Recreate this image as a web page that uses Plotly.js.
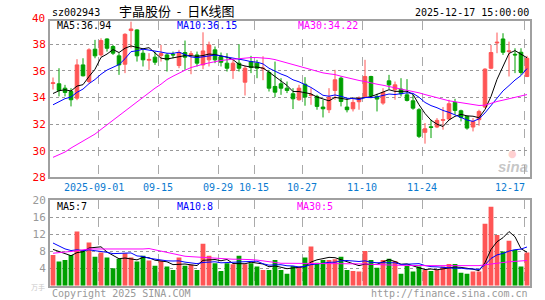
<!DOCTYPE html>
<html><head><meta charset="utf-8">
<script src="https://cdn.plot.ly/plotly-3.0.1.min.js"></script>
<style>html,body{margin:0;padding:0;background:#fff}#chart{width:545px;height:300px}</style>
</head><body><div id="chart"></div>
<script>
const dates = [
"2025-08-20","2025-08-21","2025-08-22","2025-08-25","2025-08-26","2025-08-27","2025-08-28","2025-08-29",
"2025-09-01","2025-09-02","2025-09-03","2025-09-04","2025-09-05","2025-09-08","2025-09-09","2025-09-10","2025-09-11","2025-09-12",
"2025-09-15","2025-09-16","2025-09-17","2025-09-18","2025-09-19","2025-09-22","2025-09-23","2025-09-24","2025-09-25","2025-09-26",
"2025-09-29","2025-09-30","2025-10-09","2025-10-10","2025-10-13","2025-10-14","2025-10-15","2025-10-16","2025-10-17",
"2025-10-20","2025-10-21","2025-10-22","2025-10-23","2025-10-24","2025-10-27","2025-10-28","2025-10-29","2025-10-30","2025-10-31",
"2025-11-03","2025-11-04","2025-11-05","2025-11-06","2025-11-07","2025-11-10","2025-11-11","2025-11-12","2025-11-13","2025-11-14",
"2025-11-17","2025-11-18","2025-11-19","2025-11-20","2025-11-21","2025-11-24","2025-11-25","2025-11-26","2025-11-27","2025-11-28",
"2025-12-01","2025-12-02","2025-12-03","2025-12-04","2025-12-05","2025-12-08","2025-12-09","2025-12-10","2025-12-11","2025-12-12",
"2025-12-15","2025-12-16","2025-12-17"];

const openP = [35.05,35.03,34.7,34.45,33.95,36.45,35.2,37.63,37.2,38.4,
37.83,37.13,36.5,39.03,39.08,37.33,36.8,37.03,37.15,37.2,
37.25,36.4,37.38,37.2,37.2,36.45,36.83,37.58,37.08,36.58,
36.03,36.58,35.15,36.7,36.58,36.15,35.88,34.83,35.03,34.7,
34.28,33.83,35.0,34.15,34.08,33.28,33.08,34.53,35.45,33.28,
33.15,33.68,34.08,35.58,34.08,33.58,35.25,34.58,34.63,34.2,
33.75,33.08,31.38,31.8,31.78,32.28,32.38,33.63,33.0,32.58,
31.78,32.33,33.28,36.2,38.1,38.4,37.45,37.25,37.4,35.58];
const highP = [35.5,36.2,34.95,34.7,36.88,36.95,37.7,38.33,38.45,38.45,
37.95,37.33,38.83,39.7,39.13,37.7,37.33,37.45,37.95,37.33,
37.45,37.58,38.28,37.5,37.45,38.9,38.2,37.83,37.38,37.33,
36.83,38.0,36.38,37.13,36.83,37.1,36.08,36.7,35.45,35.2,
34.7,34.95,35.53,34.7,34.2,33.83,34.7,36.08,35.58,33.95,
33.88,34.08,36.83,35.63,34.28,34.7,35.7,35.2,35.45,35.38,
34.2,33.2,32.08,32.33,32.45,33.28,33.83,33.9,33.08,32.63,
32.45,33.08,36.2,37.95,38.88,38.83,38.2,37.7,37.7,37.13];
const lowP = [34.6,34.08,34.08,33.33,33.8,35.58,35.08,36.95,37.08,37.45,
37.2,35.7,35.83,37.7,36.7,36.33,36.08,36.45,36.7,35.95,
36.95,36.2,36.08,35.75,36.33,36.13,36.33,36.58,36.33,35.95,
35.4,35.95,34.15,35.83,35.45,35.3,34.45,34.03,34.2,34.33,
33.13,33.75,33.38,33.45,33.08,32.5,32.83,33.83,33.33,32.88,
32.95,33.08,33.95,33.95,32.95,33.45,34.63,33.83,34.08,33.7,
33.08,30.95,30.53,30.95,31.7,31.58,32.33,32.7,32.2,31.58,
31.45,31.88,33.2,36.13,37.33,37.2,35.58,35.83,35.7,35.53];
const closeP = [35.1,34.53,34.38,33.83,36.45,35.63,37.58,37.13,38.28,37.7,
37.33,36.45,38.75,39.15,37.13,36.83,36.86,36.65,37.3,36.83,
37.2,37.38,37.03,37.28,36.58,37.5,37.95,36.83,36.65,36.2,
36.58,36.2,36.2,36.25,36.2,36.2,34.7,34.4,34.7,34.53,
33.9,34.7,34.03,34.2,33.33,33.15,34.03,35.33,33.7,33.08,
33.63,33.95,35.58,34.13,33.88,34.38,34.95,34.95,34.28,33.78,
33.2,31.08,31.65,31.75,32.28,32.33,33.53,33.03,32.5,31.7,
32.2,32.95,36.13,37.38,38.15,37.4,37.5,37.2,35.88,36.95];
// closes of the nine sessions before the first visible one (estimated from the MA lines' starting levels)
const prevClose = [32.0,32.3,32.6,32.9,33.2,33.5,34.0,34.3,34.6];
// price MA30
const ma30P = [29.5,29.7,29.9,30.2,30.45,30.7,30.95,31.25,31.6,31.95,
32.3,32.6,32.95,33.3,33.7,34.0,34.35,34.7,35.0,35.35,
35.6,35.85,36.05,36.25,36.4,36.5,36.6,36.7,36.78,36.83,
36.88,36.92,36.95,37.0,37.0,36.98,36.93,36.85,36.72,36.6,
36.5,36.38,36.25,36.1,35.98,35.85,35.78,35.72,35.6,35.48,
35.38,35.28,35.2,35.08,35.0,34.92,34.83,34.75,34.65,34.55,
34.45,34.35,34.22,34.1,33.98,33.85,33.75,33.68,33.6,33.52,
33.45,33.4,33.42,33.58,33.7,33.8,33.9,34.0,34.1,34.22];

const volume = [7.2,5.65,6.0,7.2,12.7,8.15,10.1,6.8,7.8,6.6,
4.1,6.3,7.6,6.6,5.65,7.0,5.9,4.7,5.9,4.5,
3.7,6.6,4.7,4.9,3.7,9.8,7.0,5.25,3.45,5.25,
5.0,7.0,5.0,5.25,4.5,3.7,3.7,6.0,3.7,2.8,
4.6,4.5,6.6,9.2,5.4,6.0,6.0,6.2,6.8,3.7,
3.45,3.3,8.15,6.0,4.2,6.0,6.3,5.8,2.8,4.6,
3.3,4.5,3.7,3.45,3.7,4.5,5.1,5.1,3.05,2.8,
3.3,3.3,14.5,18.5,11.9,8.0,10.5,8.4,4.5,7.8];
const prevVolume = [13,12.5,11,11,10,8.2,9.0,9.0,9.1];
const ma30V = [7.6,7.8,7.9,8.0,8.2,8.4,8.6,8.6,8.6,8.6,
8.6,8.6,8.5,8.5,8.5,8.6,8.7,8.4,8.0,7.7,
7.4,7.2,6.9,6.8,6.7,6.6,6.5,6.4,6.3,6.2,
6.2,6.2,6.2,6.1,6.0,5.8,5.7,5.4,5.25,5.25,
5.25,5.25,5.25,5.25,5.25,5.25,5.25,5.25,5.25,5.25,
5.25,5.2,5.1,5.0,4.9,4.9,4.85,4.8,4.75,4.7,
4.7,4.7,4.7,4.7,4.7,4.7,4.7,4.7,4.7,4.7,
4.7,4.7,4.9,5.1,5.3,5.45,5.6,5.7,5.8,5.9];

const priceTicks = [28,30,32,34,36,38];
const volTicks = [4,8,12,16,20];
const dateLabels = ["2025-09-01","09-15","09-29","10-15","10-27","11-10","11-24","12-17"];
const labelTexts = {ma5:"MA5:36.94", ma10:"MA10:36.15", ma30:"MA30:34.22", vma5:"MA5:7", vma10:"MA10:8", vma30:"MA30:5"};

// ---------- helpers ----------
const H = 300, L = 50, R = 530;
const px = x => (x - L) / (R - L);
const py = y => 1 - y / H;
function movingAvg(arr, prev, n) {
  const all = prev.concat(arr);
  return arr.map((_, i) => {
    const j = i + prev.length; let s = 0;
    for (let k = j - n + 1; k <= j; k++) s += all[k];
    return s / n;
  });
}
const idx = dates.map((d, i) => i);
const gridX = dateLabels.map(lbl => dates.findIndex(d => d.endsWith(lbl)) - 0.5);
const RED = '#ff5555', GREEN = '#00a000', MONO = 'DejaVu Sans Mono, monospace';
const volColors = closeP.map((c, i) => c >= openP[i] ? RED : GREEN);

const traces = [
  {type:'candlestick', x:idx, open:openP, high:highP, low:lowP, close:closeP,
   increasing:{line:{color:RED,width:1}, fillcolor:RED},
   decreasing:{line:{color:GREEN,width:1}, fillcolor:GREEN},
   whiskerwidth:0, hoverinfo:'skip', xaxis:'x', yaxis:'y'},
  {type:'scatter', mode:'lines', x:idx, y:movingAvg(closeP, prevClose, 5), line:{color:'#000000',width:1}, hoverinfo:'skip', xaxis:'x', yaxis:'y'},
  {type:'scatter', mode:'lines', x:idx, y:movingAvg(closeP, prevClose, 10), line:{color:'#0000ff',width:1}, hoverinfo:'skip', xaxis:'x', yaxis:'y'},
  {type:'scatter', mode:'lines', x:idx, y:ma30P, line:{color:'#ff00ff',width:1}, hoverinfo:'skip', xaxis:'x', yaxis:'y'},
  {type:'bar', x:idx, y:volume, width:0.8, marker:{color:volColors, line:{width:0}}, hoverinfo:'skip', xaxis:'x2', yaxis:'y2'},
  {type:'scatter', mode:'lines', x:idx, y:movingAvg(volume, prevVolume, 5), line:{color:'#000000',width:1}, hoverinfo:'skip', xaxis:'x2', yaxis:'y2'},
  {type:'scatter', mode:'lines', x:idx, y:movingAvg(volume, prevVolume, 10), line:{color:'#0000ff',width:1}, hoverinfo:'skip', xaxis:'x2', yaxis:'y2'},
  {type:'scatter', mode:'lines', x:idx, y:ma30V, line:{color:'#ff00ff',width:1}, hoverinfo:'skip', xaxis:'x2', yaxis:'y2'}
];

const xBase = {range:[-0.5, 79.5], tickvals:gridX, showticklabels:false, ticks:'',
  showgrid:true, gridcolor:'#aaaaaa', griddash:'dash', gridwidth:1, zeroline:false,
  showline:true, mirror:true, linecolor:'#a0a0a0', linewidth:2, fixedrange:true};
const yBase = {showgrid:true, gridcolor:'#999999', griddash:'dot', gridwidth:1, zeroline:false,
  showline:true, mirror:true, linecolor:'#a0a0a0', linewidth:2, ticks:'', fixedrange:true};

function txt(text, x, y, color, size, xanchor, family) {
  return {text:text, xref:'paper', yref:'paper', x:px(x), y:py(y), xanchor:xanchor||'left', yanchor:'middle',
    showarrow:false, font:{family:family||MONO, size:size||10, color:color||'#000'}};
}
const NB = '\u00a0';
const annotations = [
  txt('sz002943', 50, 12, '#000', 10),
  txt('宇晶股份' + NB + NB + '-' + NB + NB + '日K线图', 177, 11, '#000', 13, 'center', 'Noto Sans CJK SC, sans-serif'),
  txt('2025-12-17 15:00:00', 531, 12, '#000', 10, 'right'),
  txt('40', 47, 18, '#ff0000', 11, 'right'),
  txt(labelTexts.ma5, 55, 25, '#000', 10),
  txt(labelTexts.ma10, 175, 25, '#0000ff', 10),
  txt(labelTexts.ma30, 296, 25, '#ff00ff', 10),
  txt(labelTexts.vma5, 55, 207, '#000', 10),
  txt(labelTexts.vma10, 175, 207, '#0000ff', 10),
  txt(labelTexts.vma30, 295, 207, '#ff00ff', 10),
  txt('Copyright 2025 SINA.COM', 50, 293, '#999', 10),
  txt('http://finance.sina.com.cn', 530, 293, '#999', 10, 'right'),
  txt('万手', 38, 287, '#c8c8c8', 7, 'center', 'Noto Sans CJK SC, sans-serif'),
  txt('<b><i>sina</i></b>', 513, 166, 'rgba(150,150,150,0.55)', 15, 'center', 'Liberation Sans, sans-serif'),
  txt('●', 512, 153, 'rgba(255,120,120,0.35)', 10, 'center', 'DejaVu Sans')
];
dateLabels.forEach((lbl, k) => {
  const a = {text:lbl, xref:'x', yref:'paper', x:gridX[k], y:py(187), yanchor:'middle',
    xanchor:'center', showarrow:false, font:{family:MONO, size:10, color:'#0a7ad0'}};
  if (k === 0) a.xshift = -4;
  if (k === dateLabels.length - 1) { a.xanchor = 'right'; a.xshift = 3; }
  annotations.push(a);
});

const layout = {
  width:545, height:300, margin:{l:50, r:15, t:0, b:0},
  paper_bgcolor:'#ffffff', plot_bgcolor:'#ffffff', showlegend:false, boxgap:0.15, bargap:0.2,
  xaxis:Object.assign({}, xBase, {anchor:'y', rangeslider:{visible:false}}),
  xaxis2:Object.assign({}, xBase, {anchor:'y2'}),
  yaxis:Object.assign({}, yBase, {anchor:'x', domain:[py(177.3), py(21)], range:[28, 39.75],
    tickvals:priceTicks, tickfont:{family:MONO, size:11, color:'#ff0000'}}),
  yaxis2:Object.assign({}, yBase, {anchor:'x2', domain:[py(285.7), py(200.3)], range:[0, 20],
    tickvals:volTicks, tickfont:{family:MONO, size:11, color:'#999999'}}),
  annotations:annotations
};
Plotly.newPlot('chart', traces, layout, {staticPlot:true, displayModeBar:false});
</script></body></html>
